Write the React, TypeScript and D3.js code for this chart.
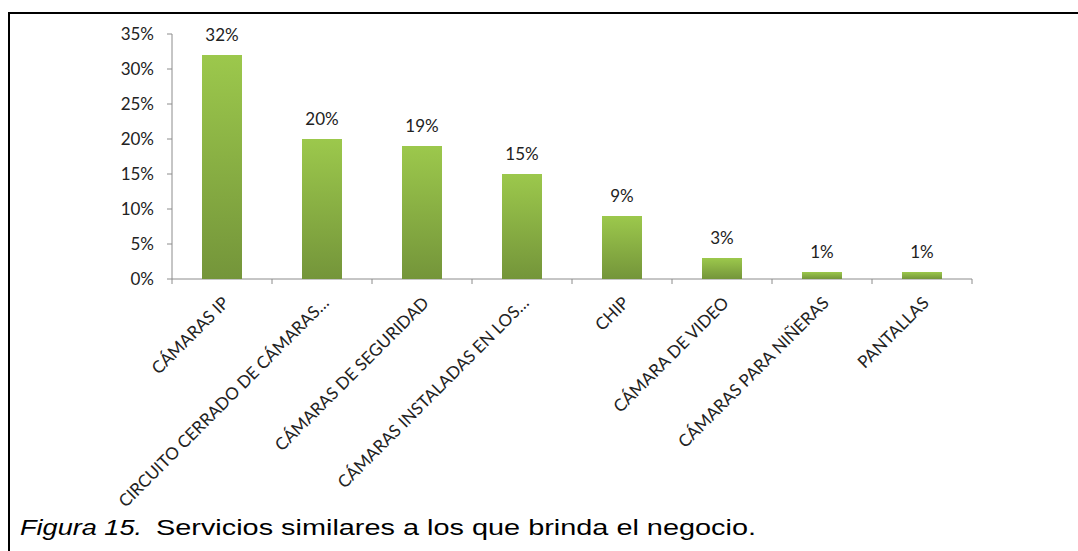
import React from "react";
import * as d3 from "d3";

const categories = [
  "CÁMARAS IP",
  "CIRCUITO CERRADO DE CÁMARAS…",
  "CÁMARAS DE SEGURIDAD",
  "CÁMARAS INSTALADAS EN LOS…",
  "CHIP",
  "CÁMARA DE VIDEO",
  "CÁMARAS PARA NIÑERAS",
  "PANTALLAS",
];
const values = [0.32, 0.2, 0.19, 0.15, 0.09, 0.03, 0.01, 0.01];
const yTicks = [0, 0.05, 0.1, 0.15, 0.2, 0.25, 0.3, 0.35];
const captionItalic = "Figura 15.";
const captionText = "Servicios similares a los que brinda el negocio.";

const W = 1078;
const H = 551;
const FONT = "Lato, 'Open Sans', sans-serif";
const FS = 17;

export default function App() {
  const x = d3
    .scaleBand<string>()
    .domain(categories)
    .range([172, 972])
    .paddingInner(0.6)
    .paddingOuter(0.3);
  const y = d3.scaleLinear().domain([0, 0.35]).range([279, 34]);
  const fmt = d3.format(".0%");
  const step = x.step();
  const x0 = 172;
  const y0 = y(0);

  return (
    <svg
      width={W}
      height={H}
      style={{ position: "absolute", left: 0, top: 0, background: "#fff" }}
    >
      <defs>
        <linearGradient id="barGrad" x1="0" y1="0" x2="0" y2="1">
          <stop offset="0%" stopColor="#9CC84C" />
          <stop offset="100%" stopColor="#74953A" />
        </linearGradient>
      </defs>
      <rect x={0} y={0} width={W} height={H} fill="#fff" />
      {/* frame: top and left */}
      <line x1={8} y1={13} x2={W} y2={13} stroke="#000" strokeWidth={2} />
      <line x1={9} y1={12} x2={9} y2={H} stroke="#000" strokeWidth={2} />

      {/* y axis */}
      <line x1={x0} y1={y(0.35)} x2={x0} y2={y0} stroke="#8c8c8c" strokeWidth={1} />
      {yTicks.map((t) => (
        <g key={t}>
          <line x1={x0 - 5} x2={x0} y1={y(t)} y2={y(t)} stroke="#8c8c8c" />
          <text
            x={x0 - 18}
            y={y(t)}
            dy="0.35em"
            textAnchor="end"
            fontFamily={FONT}
            fontSize={FS}
            fill="#222"
          >
            {fmt(t)}
          </text>
        </g>
      ))}

      {/* x axis */}
      <line x1={x0} y1={y0} x2={x0 + step * categories.length} y2={y0} stroke="#8c8c8c" />
      {d3.range(categories.length + 1).map((i) => (
        <line
          key={i}
          x1={x0 + i * step}
          x2={x0 + i * step}
          y1={y0}
          y2={y0 + 5}
          stroke="#8c8c8c"
        />
      ))}

      {/* bars */}
      {categories.map((c, i) => (
        <g key={c}>
          <rect
            x={x(c)}
            y={y(values[i])}
            width={x.bandwidth()}
            height={y0 - y(values[i])}
            fill="url(#barGrad)"
          />
          <text
            x={(x(c) as number) + x.bandwidth() / 2}
            y={y(values[i]) - 14}
            textAnchor="middle"
            fontFamily={FONT}
            fontSize={FS}
            fill="#222"
          >
            {fmt(values[i])}
          </text>
          <text
            transform={`translate(${(x(c) as number) + x.bandwidth() / 2 + 8},${y0 + 25}) rotate(-45)`}
            textAnchor="end"
            fontFamily={FONT}
            fontSize={FS}
            fill="#222"
          >
            {c}
          </text>
        </g>
      ))}

      {/* caption */}
      <text
        x={20}
        y={535}
        fontFamily="'Liberation Sans', Arial, sans-serif"
        fontSize={22}
        fontStyle="italic"
        fill="#000"
        textLength={122}
        lengthAdjust="spacingAndGlyphs"
      >
        {captionItalic}
      </text>
      <text
        x={156}
        y={535}
        fontFamily="'Liberation Sans', Arial, sans-serif"
        fontSize={22}
        fill="#000"
        textLength={600}
        lengthAdjust="spacingAndGlyphs"
      >
        {captionText}
      </text>
    </svg>
  );
}
